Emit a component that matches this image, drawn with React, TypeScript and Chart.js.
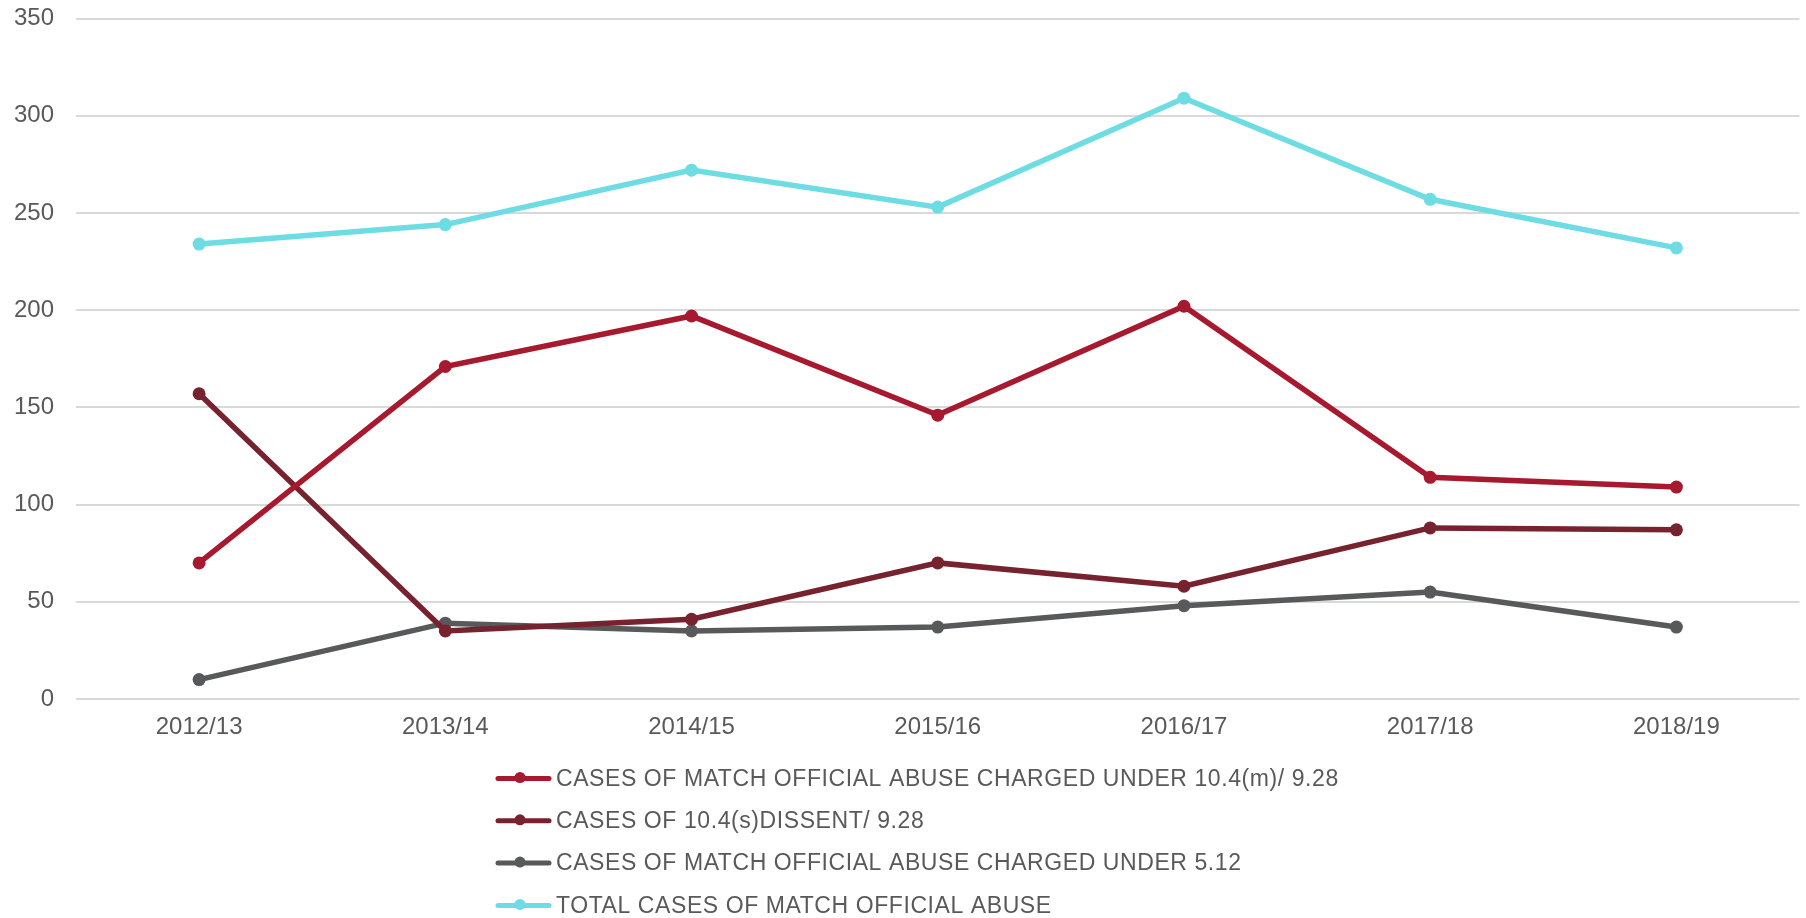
import React, { useEffect, useRef } from "react";
import { Chart, registerables } from "chart.js";

Chart.register(...registerables);

const categories = ["2012/13", "2013/14", "2014/15", "2015/16", "2016/17", "2017/18", "2018/19"];
const chargedUnder1049 = [70, 171, 197, 146, 202, 114, 109];
const dissent = [157, 35, 41, 70, 58, 88, 87];
const chargedUnder512 = [10, 39, 35, 37, 48, 55, 37];
const totalCases = [234, 244, 272, 253, 309, 257, 232];
const seriesLabels = [
  "CASES OF MATCH OFFICIAL ABUSE CHARGED UNDER 10.4(m)/ 9.28",
  "CASES OF 10.4(s)DISSENT/ 9.28",
  "CASES OF MATCH OFFICIAL ABUSE CHARGED UNDER 5.12",
  "TOTAL CASES OF MATCH OFFICIAL ABUSE",
];
const seriesColors = ["#A6192E", "#76232F", "#58595B", "#6EDCE3"];

const W = 1806;
const H = 918;
const FONT = "'Liberation Sans', Arial, sans-serif";

const legendPlugin = {
  id: "customLegend",
  afterDraw(chart: any) {
    const ctx = chart.ctx;
    const x0 = 496;
    const lineW = 55;
    const yStart = 778.5;
    const gap = 42.3;
    chart.data.datasets.forEach((ds: any, i: number) => {
      const y = yStart + i * gap;
      ctx.save();
      ctx.strokeStyle = ds.borderColor;
      ctx.lineWidth = 5;
      ctx.lineCap = "round";
      ctx.beginPath();
      ctx.moveTo(x0 + 2, y);
      ctx.lineTo(x0 + lineW - 2, y);
      ctx.stroke();
      ctx.fillStyle = ds.borderColor;
      ctx.beginPath();
      ctx.arc(x0 + 24, y - 1, 5.5, 0, Math.PI * 2);
      ctx.fill();
      ctx.font = "23px " + FONT;
      try {
        (ctx as any).letterSpacing = "0.58px";
      } catch (e) {}
      ctx.fillStyle = "#595959";
      ctx.textBaseline = "middle";
      ctx.textAlign = "left";
      ctx.fillText(ds.label, x0 + lineW + 5, y + 1);
      ctx.restore();
    });
  },
};

export default function App() {
  const ref = useRef<HTMLCanvasElement>(null);
  useEffect(() => {
    document.body.style.margin = "0";
    const values = [chargedUnder1049, dissent, chargedUnder512, totalCases];
    const chart = new Chart(ref.current!, {
      type: "line",
      data: {
        labels: categories,
        datasets: values.map((v, i) => ({
          label: seriesLabels[i],
          data: v,
          borderColor: seriesColors[i],
          backgroundColor: seriesColors[i],
          borderWidth: 5.5,
          pointRadius: 6.5,
          pointHoverRadius: 6.5,
          pointBorderWidth: 0,
          tension: 0,
          fill: false,
        })),
      },
      options: {
        responsive: false,
        animation: false,
        layout: { padding: { top: 18.5, left: 0, right: 6, bottom: 169 } },
        plugins: {
          legend: { display: false },
          tooltip: { enabled: false },
        },
        scales: {
          x: {
            offset: true,
            grid: { display: false, drawTicks: false },
            border: { display: false },
            afterFit: (s: any) => {
              s.height = 50;
              s.paddingLeft = 0;
              s.paddingRight = 0;
            },
            ticks: {
              color: "#595959",
              padding: 14,
              font: { family: FONT, size: 24 },
            },
          },
          y: {
            min: 0,
            max: 350,
            grid: { color: "#D9D9D9", lineWidth: 2, drawTicks: false },
            border: { display: false },
            afterFit: (s: any) => {
              s.width = 76;
              s.paddingTop = 0;
              s.paddingBottom = 0;
            },
            ticks: {
              stepSize: 50,
              color: "#595959",
              padding: 22,
              font: { family: FONT, size: 24 },
            },
          },
        },
      },
      plugins: [legendPlugin],
    });
    return () => chart.destroy();
  }, []);
  return (
    <div style={{ width: W, height: H, background: "#fff" }}>
      <canvas ref={ref} width={W} height={H} />
    </div>
  );
}
